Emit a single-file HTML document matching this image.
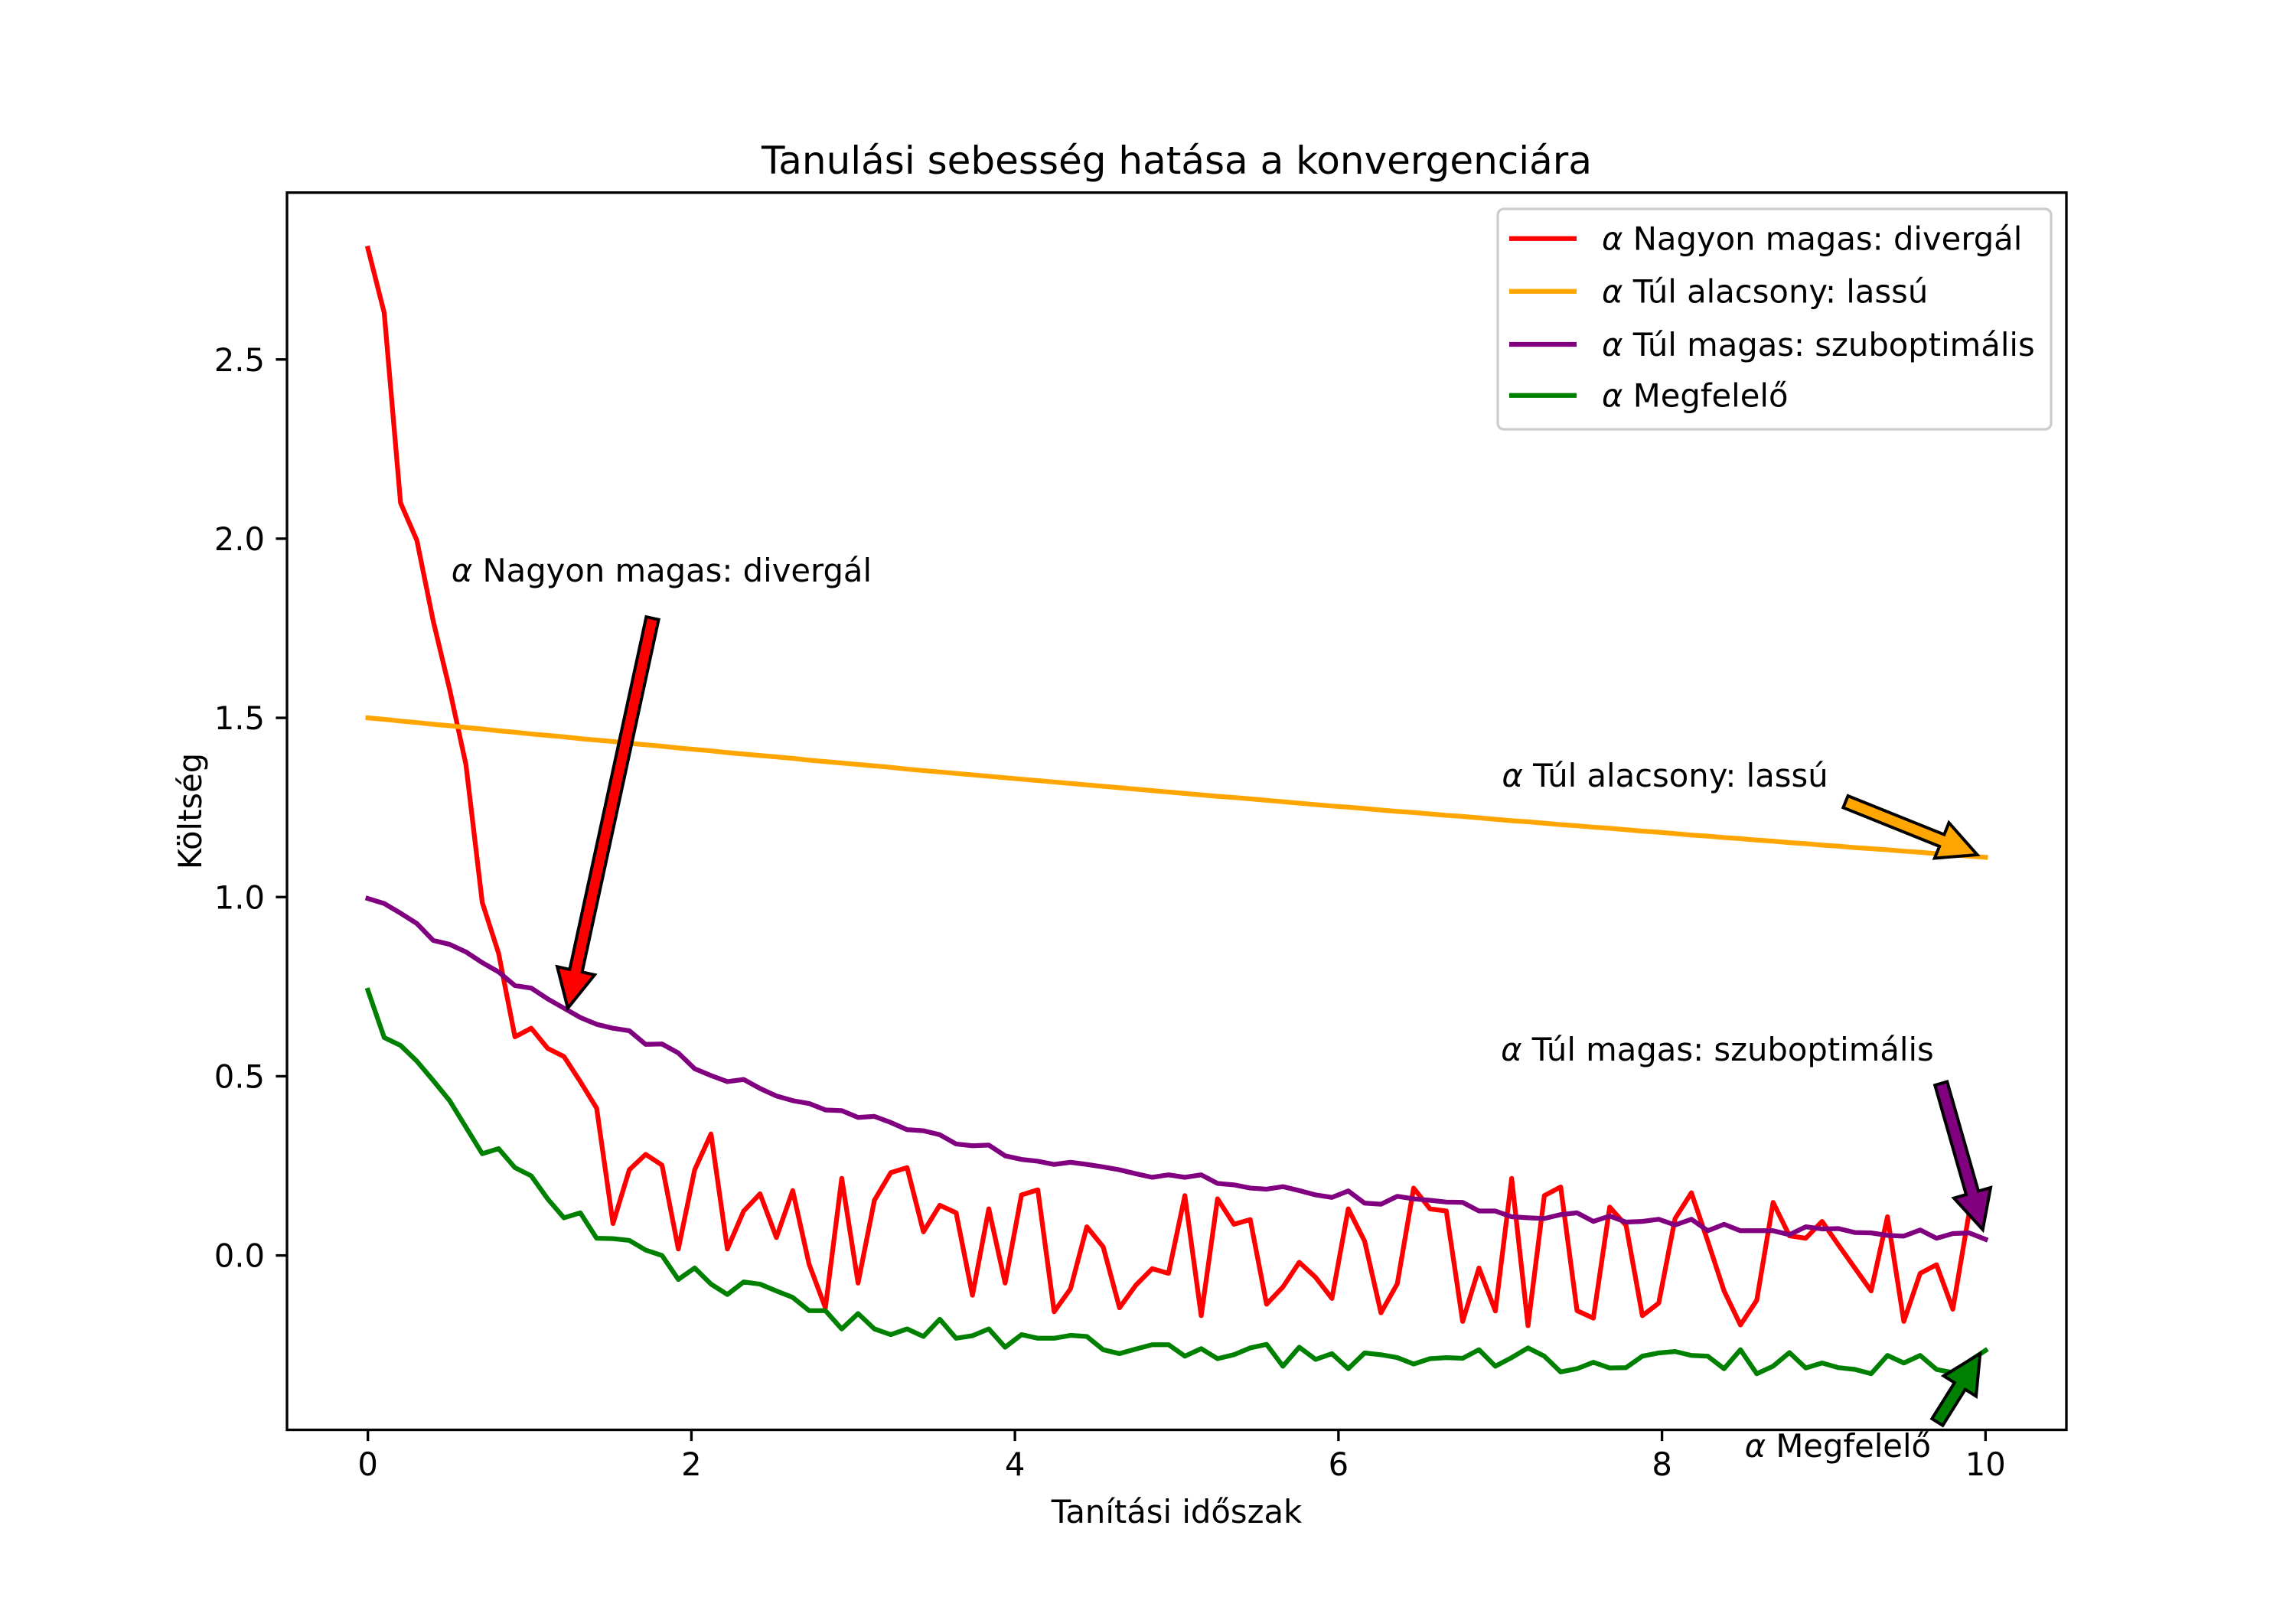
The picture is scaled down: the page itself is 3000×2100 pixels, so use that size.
<!DOCTYPE html>
<html>
<head>
<meta charset="utf-8">
<style>
  html, body { margin: 0; padding: 0; background: #ffffff; }
  svg { display: block; }
  text { font-family: "DejaVu Sans", "Liberation Sans", sans-serif; fill: #000; }
</style>
</head>
<body>
<svg id="chart" width="3000" height="2100" viewBox="0 0 3000 2100" xmlns="http://www.w3.org/2000/svg">
  <rect x="0" y="0" width="3000" height="2100" fill="#ffffff"/>
  <text x="1537.5" y="227" font-size="50" text-anchor="middle">Tanulási sebesség hatása a konvergenciára</text>
  <g id="plot"></g>
  <text x="1537.5" y="1990" font-size="41.7" text-anchor="middle">Tanítási időszak</text>
  <text x="0" y="0" font-size="41.7" text-anchor="middle" transform="translate(263,1060) rotate(-90)">Költség</text>
  <g>
    <rect x="1957" y="273" width="723" height="288" rx="8" ry="8" fill="#ffffff" fill-opacity="0.8" stroke="#cccccc" stroke-width="3.3"/>
    <g>
      <line x1="1972" y1="311.7" x2="2060" y2="311.7" stroke="#ff0000" stroke-width="6.25"/>
      <text x="2093" y="326.7" font-size="41.7"><tspan font-style="italic">α</tspan> Nagyon magas: divergál</text>
    </g>
    <g>
      <line x1="1972" y1="380.7" x2="2060" y2="380.7" stroke="#ffa500" stroke-width="6.25"/>
      <text x="2093" y="395.7" font-size="41.7"><tspan font-style="italic">α</tspan> Túl alacsony: lassú</text>
    </g>
    <g>
      <line x1="1972" y1="450" x2="2060" y2="450" stroke="#800080" stroke-width="6.25"/>
      <text x="2093" y="465" font-size="41.7"><tspan font-style="italic">α</tspan> Túl magas: szuboptimális</text>
    </g>
    <g>
      <line x1="1972" y1="516.7" x2="2060" y2="516.7" stroke="#008000" stroke-width="6.25"/>
      <text x="2093" y="531.7" font-size="41.7"><tspan font-style="italic">α</tspan> Megfelelő</text>
    </g>
  </g>
</svg>
<script>
const redValues = [2.81,2.63,2.10,1.995,1.77,1.58,1.37,0.985,0.843,0.61,
0.634,0.578,0.555,0.485,0.411,0.089,0.239,0.282,0.252,0.018,
0.239,0.339,0.018,0.124,0.172,0.05,0.181,-0.024,-0.146,0.215,
-0.077,0.154,0.231,0.245,0.066,0.14,0.119,-0.111,0.13,-0.077,
0.169,0.183,-0.157,-0.093,0.08,0.024,-0.146,-0.083,-0.037,-0.05,
0.167,-0.168,0.158,0.087,0.1,-0.136,-0.088,-0.019,-0.061,-0.12,
0.13,0.04,-0.16,-0.079,0.188,0.13,0.124,-0.184,-0.035,-0.155,
0.215,-0.196,0.167,0.191,-0.154,-0.175,0.135,0.084,-0.168,-0.133,
0.103,0.175,0.04,-0.099,-0.194,-0.125,0.148,0.055,0.048,0.095,
0.029,-0.035,-0.099,0.108,-0.184,-0.05,-0.026,-0.15,0.12,0.15];
const orangeValues = [1.500,1.496,1.491,1.487,1.482,1.478,1.473,1.469,1.464,1.460,
1.455,1.451,1.447,1.442,1.438,1.434,1.429,1.425,1.421,1.416,
1.412,1.408,1.403,1.399,1.395,1.391,1.387,1.382,1.378,1.374,
1.370,1.366,1.362,1.357,1.353,1.349,1.345,1.341,1.337,1.333,
1.329,1.325,1.321,1.317,1.313,1.309,1.305,1.301,1.297,1.293,
1.289,1.285,1.281,1.278,1.274,1.270,1.266,1.262,1.258,1.254,
1.251,1.247,1.243,1.239,1.236,1.232,1.228,1.225,1.221,1.217,
1.213,1.210,1.206,1.202,1.199,1.195,1.192,1.188,1.184,1.181,
1.177,1.173,1.170,1.166,1.163,1.159,1.156,1.152,1.149,1.145,
1.142,1.138,1.135,1.132,1.128,1.125,1.121,1.118,1.114,1.111];
const purpleValues = [0.996,0.982,0.955,0.926,0.879,0.868,0.847,0.817,0.791,0.753,
0.746,0.716,0.69,0.664,0.645,0.634,0.627,0.589,0.59,0.565,
0.521,0.502,0.485,0.491,0.466,0.445,0.432,0.424,0.406,0.404,
0.385,0.388,0.371,0.351,0.348,0.337,0.311,0.306,0.308,0.278,
0.268,0.263,0.254,0.26,0.254,0.247,0.239,0.228,0.218,0.225,
0.218,0.225,0.201,0.197,0.188,0.185,0.192,0.181,0.169,0.162,
0.18,0.146,0.143,0.165,0.158,0.154,0.149,0.148,0.124,0.124,
0.108,0.105,0.103,0.114,0.119,0.095,0.11,0.093,0.095,0.101,
0.085,0.101,0.069,0.087,0.069,0.069,0.069,0.058,0.08,0.074,
0.075,0.064,0.063,0.056,0.054,0.071,0.048,0.061,0.063,0.045];
const greenValues = [0.74,0.608,0.586,0.542,0.488,0.432,0.358,0.284,0.298,0.245,
0.222,0.158,0.105,0.119,0.048,0.047,0.042,0.015,0.0,-0.067,
-0.035,-0.08,-0.109,-0.074,-0.08,-0.099,-0.117,-0.154,-0.154,-0.205,
-0.162,-0.205,-0.221,-0.205,-0.226,-0.178,-0.231,-0.224,-0.205,-0.256,
-0.221,-0.231,-0.231,-0.223,-0.226,-0.263,-0.274,-0.261,-0.249,-0.249,
-0.281,-0.26,-0.288,-0.277,-0.258,-0.248,-0.309,-0.256,-0.29,-0.274,
-0.316,-0.272,-0.277,-0.285,-0.303,-0.288,-0.285,-0.287,-0.263,-0.309,
-0.285,-0.258,-0.281,-0.325,-0.316,-0.298,-0.314,-0.313,-0.281,-0.272,
-0.268,-0.279,-0.281,-0.316,-0.263,-0.33,-0.309,-0.271,-0.314,-0.3,
-0.313,-0.318,-0.33,-0.279,-0.3,-0.279,-0.318,-0.327,-0.295,-0.265];
const xTickLabels = ["0","2","4","6","8","10"];
const xTickValues = [0,2,4,6,8,10];
const yTickLabels = ["0.0","0.5","1.0","1.5","2.0","2.5"];
const yTickValues = [0,0.5,1.0,1.5,2.0,2.5];
const annotationLabels = ["Nagyon magas: divergál","Túl alacsony: lassú","Túl magas: szuboptimális","Megfelelő"];
const annotationTextX = [0.516,7.01,7.004,8.511];
const annotationTextY = [1.88,1.308,0.544,-0.562];
const arrowTailX = [1.759,9.135,9.725,9.702];
const arrowTailY = [1.778,1.266,0.48,-0.465];
const arrowTipX = [1.236,9.949,9.983,9.967];
const arrowTipY = [0.69,1.118,0.072,-0.274];

const NS = "http://www.w3.org/2000/svg";
const L = 375, R = 2700, T = 251.7, B = 1868.5;
const xMin = -0.5, xMax = 10.5, yMin = -0.4866, yMax = 2.9656;
function xScale(v) { return L + (v - xMin) / (xMax - xMin) * (R - L); }
function yScale(v) { return B - (v - yMin) / (yMax - yMin) * (B - T); }
function mk(tag, attrs) { const e = document.createElementNS(NS, tag); for (const k in attrs) e.setAttribute(k, attrs[k]); return e; }
const plot = document.getElementById('plot');

const clip = mk('clipPath', {id: 'axclip'});
clip.appendChild(mk('rect', {x: L, y: T, width: R - L, height: B - T}));
plot.appendChild(clip);

const seriesColors = ["#ff0000","#ffa500","#800080","#008000"];
const seriesNames = ["line-nagyon-magas","line-tul-alacsony","line-tul-magas","line-megfelelo"];
const allSeries = [redValues, orangeValues, purpleValues, greenValues];
allSeries.forEach((vals, s) => {
  const n = vals.length;
  const pts = vals.map((v, i) => xScale(i * 10 / (n - 1)).toFixed(2) + ',' + yScale(v).toFixed(2)).join(' ');
  const pl = mk('polyline', {points: pts, fill: 'none', stroke: seriesColors[s], 'stroke-width': 6.25, 'stroke-linejoin': 'round', 'stroke-linecap': 'square', 'clip-path': 'url(#axclip)'});
  
  
  plot.appendChild(pl);
});

const annColors = ["#ff0000","#ffa500","#800080","#008000"];
annotationLabels.forEach((lab, k) => {
  const x1 = xScale(arrowTailX[k]), y1 = yScale(arrowTailY[k]);
  const x2 = xScale(arrowTipX[k]), y2 = yScale(arrowTipY[k]);
  const dx = x2 - x1, dy = y2 - y1, len = Math.hypot(dx, dy);
  const ux = dx / len, uy = dy / len, px = -uy, py = ux;
  const w = 8.3, hw = 25, hl = 50;
  const bx = x2 - ux * hl, by = y2 - uy * hl;
  const P = [[x1 + px * w, y1 + py * w], [bx + px * w, by + py * w], [bx + px * hw, by + py * hw], [x2, y2],
             [bx - px * hw, by - py * hw], [bx - px * w, by - py * w], [x1 - px * w, y1 - py * w]];
  const arrow = mk('polygon', {points: P.map(p => p[0].toFixed(1) + ',' + p[1].toFixed(1)).join(' '), fill: annColors[k], stroke: '#000', 'stroke-width': 4, 'stroke-linejoin': 'miter'});
  
  
  plot.appendChild(arrow);
  const t = mk('text', {x: xScale(annotationTextX[k]), y: yScale(annotationTextY[k]), 'font-size': 41.7});
  
  
  const a = mk('tspan', {'font-style': 'italic'}); a.textContent = 'α';
  t.appendChild(a);
  t.appendChild(document.createTextNode(' ' + lab));
  plot.appendChild(t);
});

const frame = mk('rect', {x: L, y: T, width: R - L, height: B - T, fill: 'none', stroke: '#000', 'stroke-width': 3.33});


plot.appendChild(frame);

xTickValues.forEach((v, i) => {
  const x = xScale(v);
  const tk = mk('line', {x1: x, y1: B, x2: x, y2: B + 14.6, stroke: '#000', 'stroke-width': 3.33});
  
  
  plot.appendChild(tk);
  const t = mk('text', {x: x, y: 1928, 'font-size': 41.7, 'text-anchor': 'middle'});
  
  
  t.textContent = xTickLabels[i];
  plot.appendChild(t);
});
yTickValues.forEach((v, i) => {
  const y = yScale(v);
  const tk = mk('line', {x1: L - 14.6, y1: y, x2: L, y2: y, stroke: '#000', 'stroke-width': 3.33});
  
  
  plot.appendChild(tk);
  const t = mk('text', {x: 346, y: y + 15, 'font-size': 41.7, 'text-anchor': 'end'});
  
  
  t.textContent = yTickLabels[i];
  plot.appendChild(t);
});
</script>
</body>
</html>
